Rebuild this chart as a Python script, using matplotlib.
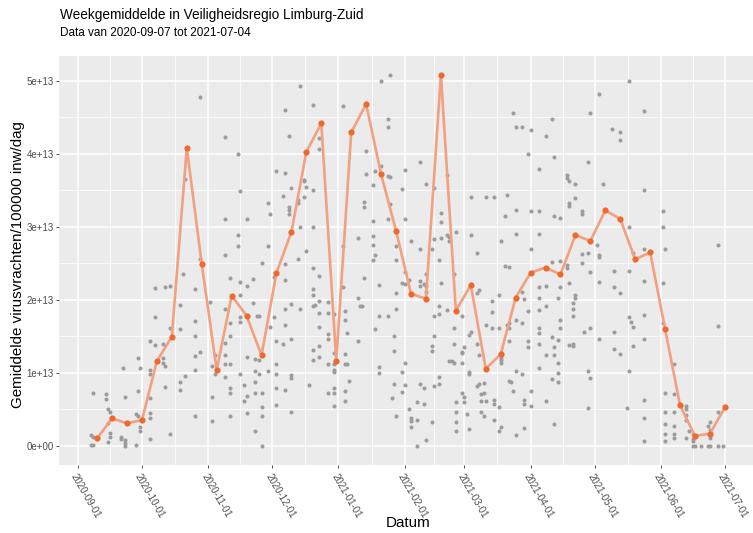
import numpy as np
import pandas as pd
import matplotlib
matplotlib.use("Agg")
import matplotlib.pyplot as plt
import matplotlib.dates as mdates
from matplotlib.ticker import FixedLocator, NullFormatter

plt.rcParams['font.family'] = ['Liberation Sans', 'DejaVu Sans']

# ---------------- data ----------------
title = "Weekgemiddelde in Veiligheidsregio Limburg-Zuid"
subtitle = "Data van 2020-09-07 tot 2021-07-04"
x_label = "Datum"
y_label = "Gemiddelde virusvrachten/100000 inw/dag"

origin = pd.Timestamp("2020-09-01")

# individual measurements: sampling day (days after 2020-09-01) and values (x 1e13)
sample_days = [6, 7, 13, 14, 15, 20, 21, 22, 27, 28, 29, 34, 36, 40, 41, 43, 48, 49, 50,
               55, 57, 62, 63, 64, 69, 71, 75, 76, 78, 79, 82, 83, 84, 85, 86, 89, 90, 92,
               93, 96, 97, 99, 100, 103, 104, 106, 107, 108, 110, 111, 113, 117, 120, 124,
               125, 126, 127, 131, 132, 133, 134, 135, 138, 139, 141, 142, 145, 146, 147,
               148, 149, 152, 153, 155, 156, 159, 160, 162, 163, 166, 167, 169, 170, 173,
               174, 175, 176, 177, 180, 181, 182, 183, 184, 187, 188, 189, 190, 191, 194,
               195, 197, 198, 200, 201, 202, 203, 204, 205, 208, 209, 211, 212, 216, 219,
               222, 223, 225, 226, 229, 230, 232, 233, 236, 237, 239, 240, 243, 244, 246,
               250, 251, 254, 257, 258, 259, 260, 265, 274, 275, 279, 285, 286, 288, 289,
               292, 295, 296, 300, 302]
sample_values = [
    [0.15, 0.01], [0.12, 0.01, 0.73], [0.71, 0.65], [0.50, 0.31, 0.06], [0.46, 0.18, 0.13],
    [0.13, 0.10], [1.07], [0.67, 0.08, 0.04, 0.0], [0.01, 0.44], [1.20, 0.75, 0.41],
    [1.07, 0.26, 0.21], [0.66, 0.99, 1.04, 1.44, 0.45, 0.38, 0.10], [2.16, 1.76, 1.38],
    [1.14, 1.40, 1.21], [1.09, 2.18, 0.81], [2.19, 1.62, 0.17], [0.77, 0.88, 1.60, 1.93],
    [2.35], [0.96, 3.65],
    [0.41, 1.04, 2.15, 1.71, 1.51, 1.23], [1.28, 4.78, 2.56], [1.97], [0.67, 0.34, 1.09],
    [1.25, 0.98], [4.23, 3.11, 2.61, 1.88, 1.41, 1.24, 1.12, 0.94],
    [2.30, 1.68, 1.50, 1.12, 0.79, 0.72, 0.41], [4.00, 2.89, 2.73],
    [3.49, 2.25, 2.07, 1.70, 1.76, 0.98], [0.84, 0.62], [3.11, 2.19, 1.22, 0.45, 0.68],
    [1.96, 2.29], [1.19, 1.02, 0.87, 0.72, 0.20], [1.78], [1.78, 1.18, 0.98],
    [0.72, 0.54, 0.41, 0.0, 2.50], [2.73, 3.32, 1.02], [3.17, 1.63], [2.31, 1.76],
    [3.76, 1.43, 1.12, 0.98, 0.79, 0.56], [3.42, 1.40], [3.73, 4.60, 2.49, 2.27, 1.88, 1.66, 0.77],
    [4.24, 3.27, 3.23, 3.18], [3.53, 1.94, 1.46, 0.97, 0.93, 0.46], [3.37, 3.32, 2.56],
    [4.92, 3.00, 1.87], [3.64, 3.62, 3.41], [3.54, 2.67], [0.84],
    [4.67, 3.50, 3.00, 2.43, 2.15, 1.91, 2.07, 1.31, 1.18], [1.93],
    [4.07, 4.21, 2.32, 1.99, 1.82, 1.63, 1.37, 1.22], [1.97, 1.82, 1.53, 1.47, 1.12, 0.73],
    [1.81, 1.27, 1.12, 1.04, 1.01, 0.79, 0.73, 0.55], [4.65, 2.73, 2.18],
    [1.85, 1.73, 1.26, 1.12, 0.75, 0.62], [1.12, 1.54], [0.89],
    [2.84, 2.03, 1.44], [1.91], [1.91], [2.30, 3.34, 3.27], [4.04, 3.72],
    [3.57, 3.08, 2.87, 2.75, 2.55], [2.61, 3.76, 1.60], [1.08, 1.00, 2.20, 1.78],
    [5.00, 3.83], [4.48, 4.37, 3.69, 3.10, 1.78], [5.08, 3.68, 3.31], [0.66],
    [1.50, 1.30, 0.85], [2.74, 2.54, 2.10, 1.88, 0.41], [3.51, 2.23, 1.01, 0.74],
    [3.78, 3.10, 2.38, 2.22, 1.14, 0.83], [2.27, 0.51], [0.38, 0.34, 0.26, 2.80],
    [0.60, 0.36, 0.0], [3.88, 2.69, 2.26, 2.19, 0.85], [2.22, 0.58, 0.79],
    [2.11, 0.08, 3.59, 2.36, 2.19], [2.69, 1.37, 1.30, 0.33], [3.53, 2.83, 1.78, 1.50, 0.82],
    [2.54, 1.92, 1.81, 0.95, 0.85], [3.19, 3.07, 2.84, 2.23], [3.71, 2.88, 1.86],
    [2.86, 2.80, 1.16], [1.16], [2.35, 1.61, 1.39, 1.13], [2.93, 0.60, 0.46, 0.33, 0.21],
    [1.29, 1.27, 1.13, 1.78, 0.73], [0.67, 0.60, 1.35], [0.44], [0.23, 1.01, 0.98, 1.52],
    [3.40, 2.89, 1.56], [2.64, 2.09, 1.40, 0.82], [2.13, 1.24, 0.85], [0.71, 0.61, 0.46],
    [0.41, 0.73, 0.86], [0.61, 3.41, 1.66], [1.98, 1.84, 1.62],
    [0.36, 0.63, 0.58, 3.41], [2.07, 1.62, 0.54, 0.21], [2.80, 1.20, 1.18, 1.14, 0.26],
    [3.14, 2.46], [3.43, 1.66], [2.45, 1.68, 1.61, 1.43, 0.89], [0.88], [0.75, 4.56],
    [0.15, 4.37, 3.23, 2.90, 1.72, 1.02], [4.37, 2.11, 1.68, 0.98], [0.63, 0.58, 2.01, 0.25],
    [4.00, 1.85, 1.43, 1.35], [4.32, 3.22, 2.70, 0.75, 0.55],
    [3.79, 3.22, 2.90, 2.17, 2.03, 1.86, 1.61, 1.55, 1.40, 1.07], [4.24, 2.19, 1.91, 1.24, 0.62],
    [4.48, 2.52, 1.49, 0.92], [3.95, 3.15, 1.35, 1.25, 0.30], [1.14, 1.00, 0.88, 1.45, 2.03],
    [3.12, 2.53, 2.18, 1.72, 1.61], [3.71, 3.66, 2.48, 2.44], [3.63, 3.33, 3.29, 2.23, 1.38],
    [1.40, 1.37, 1.87, 1.96, 1.78], [3.59, 3.39, 2.03, 2.06], [3.21, 3.18, 2.63, 2.51],
    [1.56], [3.88, 2.64, 1.03, 0.52], [4.56, 2.38, 1.62, 0.93], [2.75],
    [2.61, 2.58, 2.25, 1.47, 4.82], [3.58],
    [4.33], [2.40, 2.17, 1.56, 1.33], [4.30, 4.18, 2.09, 1.26], [0.52],
    [5.00, 2.99, 2.40, 1.77, 1.02], [1.69], [1.63, 1.37, 2.64],
    [4.58, 3.50, 2.69, 2.26, 1.79, 1.46, 0.63, 0.38, 0.07], [3.21, 2.99, 2.23, 1.68],
    [2.70, 0.73, 0.47, 0.30, 0.17, 0.07], [1.12, 0.71, 0.47, 0.27, 0.17, 0.11],
    [0.55, 0.50, 0.43, 0.36, 0.11], [0.21], [0.17, 0.10, 0.07, 0.0], [0.0],
    [0.0], [0.0, 0.27], [0.0, 0.33, 0.22, 0.11], [2.75, 1.64, 0.47, 0.0], [0.0],
]

# weekly averages (x 1e13), one per week starting on Monday, plotted mid-week
week_starts = pd.date_range("2020-09-07", "2021-06-28", freq="7D")
week_means = [0.105, 0.379, 0.31, 0.356, 1.163, 1.496, 4.081, 2.49, 1.04, 2.056,
              1.783, 1.24, 2.371, 2.927, 4.026, 4.414, 1.163, 4.29, 4.678, 3.717,
              2.944, 2.084, 2.015, 5.08, 1.851, 2.202, 1.058, 1.254, 2.029, 2.371,
              2.44, 2.348, 2.886, 2.804, 3.224, 3.105, 2.554, 2.649, 1.60, 0.556,
              0.137, 0.169, 0.529]

month_ticks = pd.date_range("2020-09-01", "2021-07-01", freq="MS")
y_ticks = [0.0, 1e13, 2e13, 3e13, 4e13, 5e13]
y_tick_labels = ["0e+00", "1e+13", "2e+13", "3e+13", "4e+13", "5e+13"]

# ---------------- prepare ----------------
scale = 1e13
gx = [origin + pd.Timedelta(days=d) for d, vals in zip(sample_days, sample_values) for _ in vals]
gy = [v * scale for vals in sample_values for v in vals]
gx_num = mdates.date2num(pd.to_datetime(gx).to_pydatetime())
wx_num = mdates.date2num((week_starts + pd.Timedelta(days=3)).to_pydatetime())
wy = np.array(week_means) * scale

# ---------------- figure ----------------
W, H = 753, 533
fig = plt.figure(figsize=(W / 100, H / 100), dpi=100)
fig.patch.set_facecolor("white")

left_px, right_px, top_px, bottom_px = 59, 756.6, 56.1, 464.6
ax = fig.add_axes([left_px / W, 1 - bottom_px / H,
                   (right_px - left_px) / W, (bottom_px - top_px) / H])
ax.set_facecolor("#EBEBEB")
for s in ax.spines.values():
    s.set_visible(False)

# limits with ggplot-like 5% expansion
all_x = np.concatenate([gx_num, wx_num])
all_y = np.concatenate([np.array(gy), wy])
xr = all_x.max() - all_x.min()
yr = all_y.max() - all_y.min()
ax.set_xlim(all_x.min() - 0.05 * xr, all_x.max() + 0.05 * xr)
ax.set_ylim(all_y.min() - 0.05 * yr, all_y.max() + 0.05 * yr)

# ticks & grid
major_x = mdates.date2num(month_ticks.to_pydatetime())
ax.xaxis.set_major_locator(FixedLocator(major_x))
ax.set_xticklabels([d.strftime("%Y-%m-%d") for d in month_ticks], rotation=-60,
                   ha="left", va="top", rotation_mode="anchor")
minor_x = list((major_x[:-1] + major_x[1:]) / 2) + [major_x[-1] + (major_x[-1] - major_x[-2]) / 2]
ax.xaxis.set_minor_locator(FixedLocator(minor_x))
ax.yaxis.set_major_locator(FixedLocator(y_ticks))
ax.set_yticklabels(y_tick_labels)
minor_y = [(y_ticks[i] + y_ticks[i + 1]) / 2 for i in range(len(y_ticks) - 1)]
ax.yaxis.set_minor_locator(FixedLocator(minor_y))
ax.xaxis.set_minor_formatter(NullFormatter())
ax.yaxis.set_minor_formatter(NullFormatter())

ax.grid(which="major", color="white", linewidth=1.1)
ax.grid(which="minor", color="white", linewidth=0.55)
ax.set_axisbelow(True)
ax.tick_params(which="major", length=2.2, width=0.6, color="#333333",
               labelcolor="#4D4D4D", labelsize=7, pad=1.5)
ax.tick_params(axis="x", which="major", pad=3)
ax.tick_params(which="minor", length=0)

# data
ax.scatter(gx_num, gy, s=8.5, c="#9C9C9C", linewidths=0, zorder=2)
ax.plot(wx_num, wy, color="#F2A080", linewidth=1.9, zorder=3, solid_joinstyle="round")
ax.scatter(wx_num, wy, s=20, c="#EE6A2C", linewidths=0, zorder=4)

# texts
fig.text(60 / W, 1 - 19.5 / H, title, fontsize=9.8, va="baseline", ha="left", color="black")
fig.text(60 / W, 1 - 36.5 / H, subtitle, fontsize=8.5, va="baseline", ha="left", color="black")
fig.text(18 / W, 1 - 265 / H, y_label, fontsize=10.9, rotation=90, va="center", ha="center")
fig.text(408 / W, 1 - 523 / H, x_label, fontsize=10.9, va="center", ha="center")

fig.savefig("out.png", dpi=100)
